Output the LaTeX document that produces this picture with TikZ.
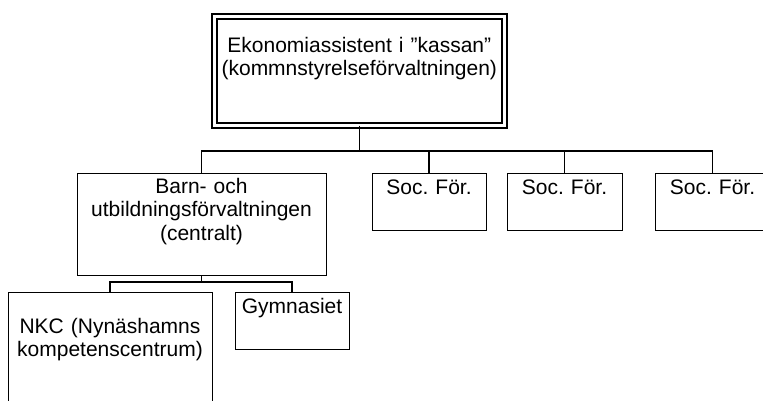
\documentclass[tikz,border=0pt]{standalone}
\usepackage{fontspec}
\setmainfont{Liberation Sans}
\frenchspacing
\usetikzlibrary{calc}
\begin{document}
\begin{tikzpicture}[x=1pt,y=-1pt,line join=miter,font=\fontsize{21}{23.5}\selectfont,
	box/.style={draw,line width=1pt,inner sep=0pt,outer sep=0pt,anchor=north west,align=center},
	conn/.style={line width=1.2pt}]
	\def \busy{151}
	\def \suby{282}
	\useasboundingbox (0,0) rectangle (763,401);
	\node[box,double,line width=1.5pt,double distance=3.6pt,text width=290pt,text height=35.7pt,text depth=73.3pt] (kassan) at (214.3,16.6) {Ekonomiassistent i ”kassan”\\(kommnstyrelseförvaltningen)};
	\node[box,text width=249pt,text height=20.3pt,text depth=81.7pt] (barn) at (77,173) {Barn- och\\utbildningsförvaltningen\\(centralt)};
	\node[box,text width=114pt,text height=21.5pt,text depth=35.5pt] (soc1) at (372,173) {Soc. För.};
	\node[box,text width=115pt,text height=21.5pt,text depth=35.5pt] (soc2) at (507,173) {Soc. För.};
	\node[box,text width=115pt,text height=21.5pt,text depth=35.5pt] (soc3) at (655,173) {Soc. För.};
	\node[box,text width=204pt,text height=41pt,text depth=89pt] (nkc) at (8,292) {NKC (Nynäshamns\\kompetenscentrum)};
	\node[box,text width=114pt,text height=21pt,text depth=36pt] (gym) at (235,292) {Gymnasiet};
	\coordinate (bus) at (kassan.south |- 0,\busy);
	\coordinate (sub) at (barn.south |- 0,\suby);
	\draw[conn] (kassan.south) -- (bus);
	\draw[conn] (barn.north) |- (bus) -| (soc3.north);
	\draw[conn] (soc1.north) -- (soc1.north |- bus);
	\draw[conn] (soc2.north) -- (soc2.north |- bus);
	\draw[conn] (barn.south) -- (sub);
	\draw[conn] (nkc.north) |- (sub) -| (gym.north);
\end{tikzpicture}
\end{document}
